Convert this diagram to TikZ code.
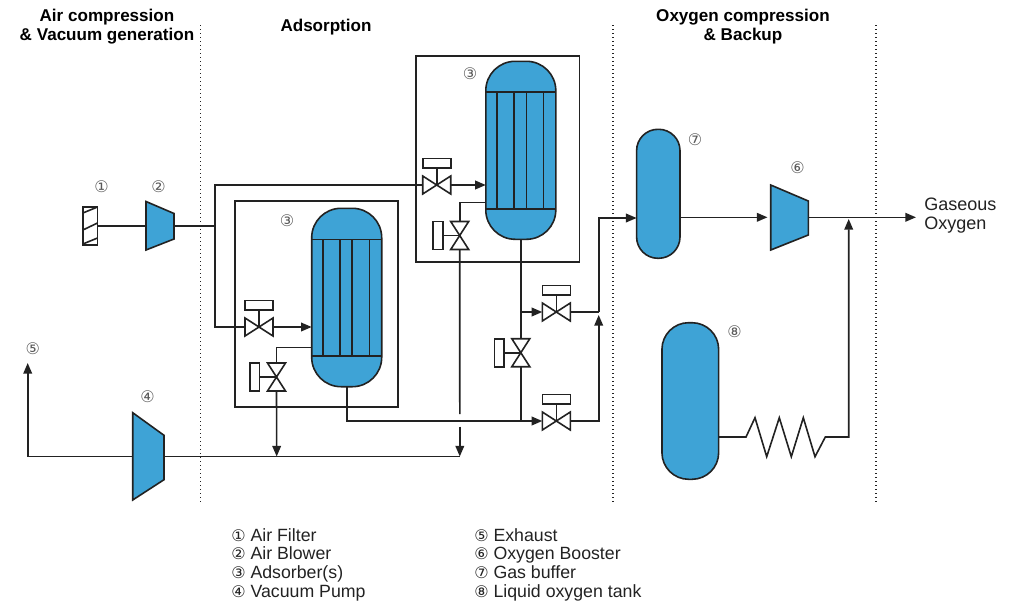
\documentclass[tikz,border=0pt]{standalone}
\usepackage{fontspec}
\setmainfont{Liberation Sans}
\newfontfamily\numfont{DejaVu Sans}
\usetikzlibrary{arrows.meta}
\definecolor{vesselblue}{HTML}{3EA3D6}
\definecolor{pipeink}{HTML}{222222}
\newcommand{\itemnum}[1]{{\numfont\fontsize{12}{12}\selectfont #1}}
\tikzset{
  pipe/.style={draw=pipeink, line width=1.2pt},
  boundary/.style={draw=pipeink, line width=1pt, dash pattern=on 1pt off 2pt},
  vessel/.style 2 args={draw=pipeink, fill=vesselblue, line width=1.2pt, inner sep=0pt, outer sep=0pt,
    minimum width=#1*0.75pt, minimum height=#2*0.75pt, rounded corners=22pt},
  machine/.style={draw=pipeink, fill=vesselblue, line width=1.2pt, line join=miter},
  heading/.style={font=\bfseries\fontsize{12.8}{14.2}\selectfont, align=center, text=black, inner sep=0pt},
  tag/.style={font=\numfont\fontsize{12}{12}\selectfont, text=black!65, inner sep=0pt},
  legend/.style={font=\fontsize{13.3}{14}\selectfont, align=left, anchor=north west, inner sep=0pt, text=pipeink},
  % valve with its actuator above
  pics/hvalve/.style={code={
    \coordinate (-in) at (-14,0);
    \coordinate (-out) at (14,0);
    \draw[pipe, fill=white] (-14,-9) -- (14,9) -- (14,-9) -- (-14,9) -- cycle;
    \draw[pipe] (0,0) -- (0,-17);
    \draw[pipe, fill=white] (-14,-26.5) rectangle (14,-17);
  }},
  % valve with its actuator at the left
  pics/vvalve/.style={code={
    \coordinate (-in) at (0,-14);
    \coordinate (-out) at (0,14);
    \draw[pipe, fill=white] (-9,-14) -- (9,14) -- (-9,14) -- (9,-14) -- cycle;
    \draw[pipe] (0,0) -- (-17,0);
    \draw[pipe, fill=white] (-26.5,-14) rectangle (-17,14);
  }}
}
\begin{document}
\begin{tikzpicture}[x=0.75pt, y=-0.75pt, >={Stealth[inset=0pt,length=8pt,width=6.5pt]}]
  \useasboundingbox (0,0) rectangle (1020,603);

  % Section boundaries
  \draw[boundary] (200.5,25) -- (200.5,503);
  \draw[boundary] (613,25) -- (613,503);
  \draw[boundary] (876,25) -- (876,503);

  \node[heading] (headair) at (107,26.5) {Air compression\\\& Vacuum generation};
  \node[heading] (headads) at (326,27) {Adsorption};
  \node[heading] (headoxy) at (743,26.5) {Oxygen compression\\\& Backup};

  % Adsorber frames
  \draw[pipe] (234.7,200.7) rectangle (398,406.7);
  \draw[pipe] (415.7,56) rectangle (579.3,261.7);

  % Adsorber at the bottom
  \node[vessel={70}{178.4}] (adsA) at (346.7,297.5) {};
  \draw[pipe] (adsA.west |- 0,239.3) -- (adsA.east |- 0,239.3);
  \draw[pipe] (adsA.west |- 0,355.7) -- (adsA.east |- 0,355.7);
  \foreach \tube in {322.7,340,352,369.3}
    \draw[pipe] (\tube,239.3) -- (\tube,355.7);

  % Adsorber at the top
  \node[vessel={70}{178}] (adsB) at (520.8,150.3) {};
  \draw[pipe] (adsB.west |- 0,92) -- (adsB.east |- 0,92);
  \draw[pipe] (adsB.west |- 0,209) -- (adsB.east |- 0,209);
  \foreach \tube in {496.7,514,526.3,543.3}
    \draw[pipe] (\tube,92) -- (\tube,209);

  % Buffer and tank
  \node[vessel={43.4}{129}, rounded corners=16pt] (buffer) at (658.3,193.8) {};
  \node[vessel={56.7}{156.6}, rounded corners=20pt] (tank) at (690.3,401) {};

  % Valves
  \pic (vfeedA) at (259,327) {hvalve};
  \pic (vfeedB) at (436.7,185) {hvalve};
  \pic (vpurgeA) at (276.5,377) {vvalve};
  \pic (vpurgeB) at (459.7,235.5) {vvalve};
  \pic (vlink) at (520.8,352.7) {vvalve};
  \pic (vupper) at (556.3,312) {hvalve};
  \pic (vlower) at (556.3,421) {hvalve};

  % Filter
  \node[draw=pipeink, line width=1.2pt, inner sep=0pt, outer sep=0pt, minimum width=11pt, minimum height=28.5pt] (filter) at (90.2,226) {};
  \draw[pipe] (filter.west |- 0,213) -- (filter.east |- 0,207);
  \draw[pipe] (filter.west |- 0,230) -- (filter.east |- 0,223);
  \draw[pipe] (filter.west |- 0,244) -- (filter.east |- 0,238);

  % Blower, pump and booster
  \draw[machine] (146,201.5) -- (174,213.5) -- (174,239) -- (146,250) -- cycle;
  \draw[machine] (132.7,412.7) -- (164,435.3) -- (164,479.7) -- (132.7,500) -- cycle;
  \draw[machine] (770.7,185) -- (808.3,201) -- (808.3,235) -- (770.7,250) -- cycle;
  \coordinate (blowerin) at (146,226);
  \coordinate (blowerout) at (174,226);
  \coordinate (pumpin) at (164,456.5);
  \coordinate (pumpout) at (132.7,456.5);
  \coordinate (boosterin) at (767.5,217.3);
  \coordinate (boosterout) at (808.3,217.3);

  % Junctions
  \coordinate (feedsplit) at (215,226);
  \coordinate (vacA) at (276.7,456.5);
  \coordinate (vacB) at (459.8,456.5);
  \coordinate (mergeH) at (598.7,312);
  \coordinate (exhaust) at (27.7,363);
  \coordinate (product) at (916,217.3);

  % Air feed
  \draw[pipe] (filter.east |- feedsplit) -- (blowerin);
  \draw[pipe] (blowerout) -- (feedsplit);
  \draw[pipe] (feedsplit) -- (215,185) -- (vfeedB-in);
  \draw[pipe] (feedsplit) -- (215,327) -- (vfeedA-in);
  \draw[pipe, ->] (vfeedA-out) -- (adsA.west |- vfeedA-out);
  \draw[pipe, ->] (vfeedB-out) -- (adsB.west |- vfeedB-out);

  % Vacuum side
  \draw[pipe] (adsA.west |- 0,347.3) -| (vpurgeA-in);
  \draw[pipe] (adsB.west |- 0,202.3) -| (vpurgeB-in);
  \draw[pipe, ->] (vpurgeA-out) -- (vacA);
  \draw[pipe] (vpurgeB-out) -- (459.8,414);
  \draw[pipe, ->] (459.8,426.7) -- (vacB);
  \draw[pipe] (vacB) -- (pumpin);
  \draw[pipe, ->] (pumpout) -| (exhaust);

  % Oxygen side
  \draw[pipe, ->] (adsA.south) |- (vlower-in);
  \draw[pipe] (adsB.south) -- (vlink-in);
  \draw[pipe] (vlink-out) -- (520.8,421);
  \draw[pipe, ->] (520.8,312) -- (vupper-in);
  \draw[pipe, ->] (vlower-out) -| (598.7,315);
  \draw[pipe] (vupper-out) -- (mergeH);
  \draw[pipe, ->] (mergeH) -- (598.7,218) -- (buffer.west |- 0,218);
  \draw[pipe, ->] (buffer.east |- boosterin) -- (boosterin);
  \draw[pipe, ->] (boosterout) -- (product);
  \draw[pipe, ->] (tank.east |- 0,437) -- (746,437) -- (755,417.7) -- (766.7,456.7) -- (779.3,417.7) -- (791.3,456.7) -- (803.3,417.7) -- (815,456.7) -- (825.3,437) -- (848.7,437) -- (848.7,219);

  % Item numbers
  \node[tag] (tfilter) at (101.5,186.5) {①};
  \node[tag] (tblower) at (158.5,186.5) {②};
  \node[tag] (tadsA) at (287,221) {③};
  \node[tag] (tadsB) at (470,74) {③};
  \node[tag] (tpump) at (147.5,396.5) {④};
  \node[tag] (texhaust) at (32.7,348.5) {⑤};
  \node[tag] (tbooster) at (797.5,167.5) {⑥};
  \node[tag] (tbuffer) at (695,139.5) {⑦};
  \node[tag] (ttank) at (734.5,332) {⑧};

  \node[anchor=west, align=left, inner sep=0pt, font=\fontsize{13.5}{14.2}\selectfont, text=pipeink] (gas) at (924,216) {Gaseous\\Oxygen};

  % Legend
  \node[legend] (legleft) at (231,528) {\itemnum{①} Air Filter\\\itemnum{②} Air Blower\\\itemnum{③} Adsorber(s)\\\itemnum{④} Vacuum Pump};
  \node[legend] (legright) at (474,528) {\itemnum{⑤} Exhaust\\\itemnum{⑥} Oxygen Booster\\\itemnum{⑦} Gas buffer\\\itemnum{⑧} Liquid oxygen tank};
\end{tikzpicture}
\end{document}
